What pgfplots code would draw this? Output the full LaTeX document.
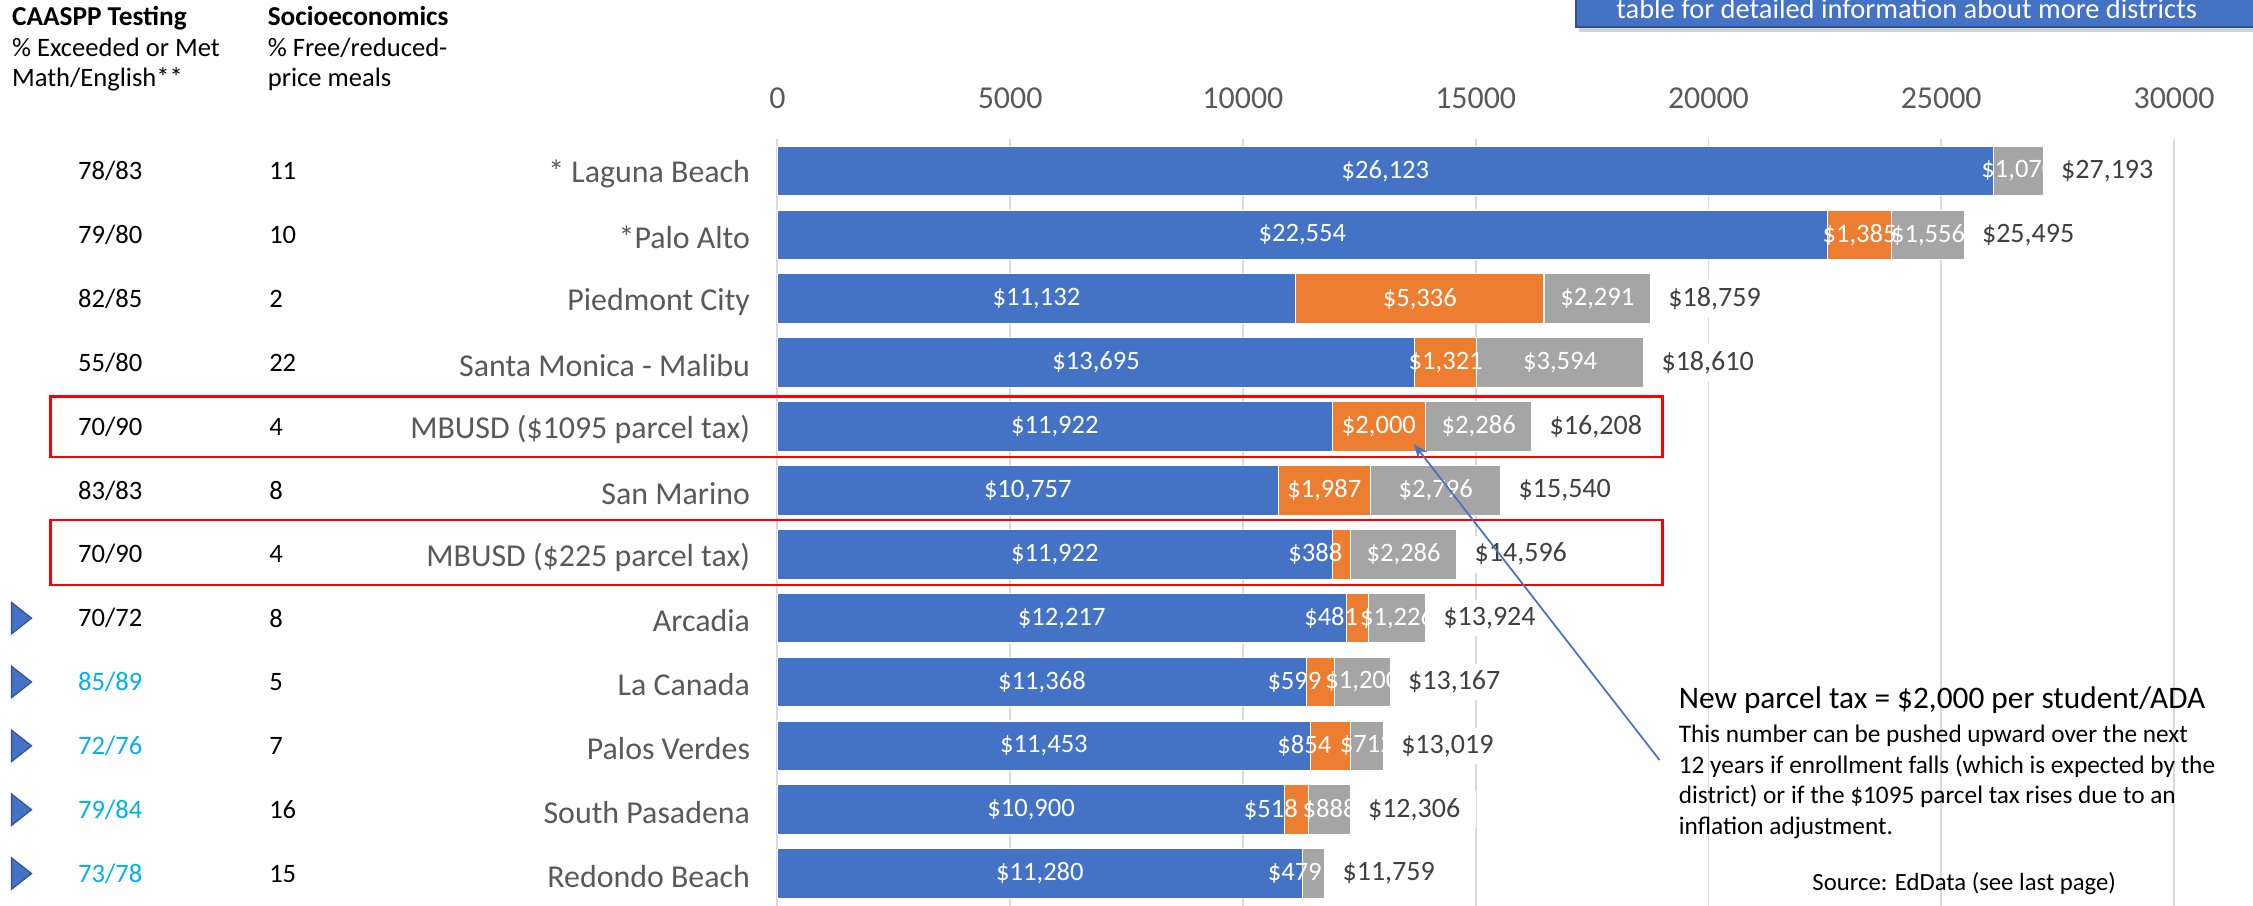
\documentclass[border=0pt]{standalone}
\usepackage{fontspec}
\setmainfont{Carlito}
\usepackage{pgfplots}
\pgfplotsset{compat=1.18}
\usepackage{pgfplotstable}
\usetikzlibrary{arrows.meta,shadows}

\definecolor{cblue}{HTML}{4472C4}
\definecolor{corange}{HTML}{ED7D31}
\definecolor{cgray}{HTML}{A5A5A5}
\definecolor{cgrid}{HTML}{D9D9D9}
\definecolor{ctxt}{HTML}{595959}
\definecolor{ctot}{HTML}{404040}
\definecolor{cltblue}{HTML}{00B0F0}
\definecolor{cdkblue}{HTML}{2F528F}

% row, base spending (blue), parcel tax (orange), other (gray), CAASPP, FRL
\pgfplotstableread{
row a b c caaspp frl
0 26123 0 1070 78/83 11
1 22554 1385 1556 79/80 10
2 11132 5336 2291 82/85 2
3 13695 1321 3594 55/80 22
4 11922 2000 2286 70/90 4
5 10757 1987 2796 83/83 8
6 11922 388 2286 70/90 4
7 12217 481 1226 70/72 8
8 11368 599 1200 85/89 5
9 11453 854 712 72/76 7
10 10900 518 888 79/84 16
11 11280 0 479 73/78 15
}\districts

\pgfdeclareplotmark{rtri}{%
  \pgfpathmoveto{\pgfqpoint{-3.5pt}{5.5pt}}%
  \pgfpathlineto{\pgfqpoint{3.5pt}{0pt}}%
  \pgfpathlineto{\pgfqpoint{-3.5pt}{-5.5pt}}%
  \pgfpathclose
  \pgfusepathqfillstroke}

\newcommand{\fs}[1]{\fontsize{#1}{#1}\selectfont}

\begin{document}
\begin{tikzpicture}
\useasboundingbox (0pt,0pt) rectangle (784pt,-315pt);
\begin{axis}[
  at={(270.5pt,-48.4pt)}, anchor=north west,
  scale only axis, width=486pt, height=266.7pt,
  xmin=0, xmax=30000, ymin=-0.5, ymax=11.5, y dir=reverse,
  axis line style={draw=none}, major tick length=0pt,
  xtick={0,5000,...,30000}, xticklabel pos=upper,
  scaled x ticks=false,
  xmajorgrids, grid style={cgrid, line width=0.6pt},
  ytick={0,...,11},
  yticklabels={{* Laguna Beach},{*Palo Alto},{Piedmont City},{Santa Monica - Malibu},{MBUSD (\$1095 parcel tax)},{San Marino},{MBUSD (\$225 parcel tax)},{Arcadia},{La Canada},{Palos Verdes},{South Pasadena},{Redondo Beach}},
  /pgf/number format/assume math mode=true,
  xticklabel style={font=\fs{11.1}, text=ctxt, yshift=7pt, /pgf/number format/1000 sep={}},
  yticklabel style={font=\fs{11.1}, text=ctxt, xshift=-6pt, yshift=-1pt},
  clip=false,
]
% bars (drawn back to front: total, base+parcel, base)
\addplot[xbar, bar shift=0pt, bar width=17.3pt, fill=cgray, draw=white, line width=0.4pt]
  table[x expr=\thisrow{a}+\thisrow{b}+\thisrow{c}, y=row]{\districts};
\addplot[xbar, bar shift=0pt, bar width=17.3pt, fill=corange, draw=white, line width=0.4pt, restrict expr to domain={\thisrow{b}}{1:100000}]
  table[x expr=\thisrow{a}+\thisrow{b}, y=row]{\districts};
\addplot[xbar, bar shift=0pt, bar width=17.3pt, fill=cblue, draw=white, line width=0.4pt]
  table[x=a, y=row]{\districts};

% segment labels
\pgfplotsset{seglab/.style={draw=none, mark=none, point meta=explicit,
  nodes near coords={\$\pgfmathprintnumber[fixed,precision=0,1000 sep={,}]{\pgfplotspointmeta}},
  every node near coord/.append style={anchor=center, text=white, font=\fs{9.25}}}}
\addplot[seglab] table[x expr=\thisrow{a}/2, y=row, meta=a]{\districts};
\addplot[seglab, restrict expr to domain={\thisrow{b}}{1000:100000}]
  table[x expr=\thisrow{a}+\thisrow{b}/2, y=row, meta=b]{\districts};
\addplot[seglab, restrict expr to domain={\thisrow{b}}{1:999},
  every node near coord/.append style={anchor=east, inner xsep=0pt, xshift=0.5pt}]
  table[x expr=\thisrow{a}+\thisrow{b}/2, y=row, meta=b]{\districts};
\addplot[seglab, restrict expr to domain={\thisrow{c}}{601:100000}]
  table[x expr=\thisrow{a}+\thisrow{b}+\thisrow{c}/2, y=row, meta=c]{\districts};
\addplot[seglab, restrict expr to domain={\thisrow{c}}{1:600},
  every node near coord/.append style={anchor=east, inner xsep=0pt, xshift=3pt}]
  table[x expr=\thisrow{a}+\thisrow{b}+\thisrow{c}/2, y=row, meta=c]{\districts};
% totals (white box hides label overflow beyond bar end)
\addplot[draw=none, mark=none, point meta=explicit,
  nodes near coords={\$\pgfmathprintnumber[fixed,precision=0,1000 sep={,}]{\pgfplotspointmeta}},
  every node near coord/.append style={anchor=west, text=ctot, font=\fs{9.75}, fill=white, inner xsep=5.6pt, inner ysep=2.5pt, xshift=0.4pt}]
  table[x expr=\thisrow{a}+\thisrow{b}+\thisrow{c}, y=row, meta expr=\thisrow{a}+\thisrow{b}+\thisrow{c}]{\districts};

% left columns
\pgfplotsset{collab/.style={draw=none, mark=none, point meta=explicit symbolic, nodes near coords,
  every node near coord/.append style={anchor=west, inner sep=0pt, font=\fs{9.25}, text=#1}}}
\addplot[collab=black, restrict y to domain=0:7] table[x expr=-15031, y=row, meta=caaspp]{\districts};
\addplot[collab=cltblue, restrict y to domain=8:11] table[x expr=-15031, y=row, meta=caaspp]{\districts};
\addplot[collab=black] table[x expr=-10926, y=row, meta=frl]{\districts};
% triangle markers
\addplot[only marks, mark=rtri, mark options={fill=cblue, draw=cdkblue, line width=0.4pt}, restrict y to domain=7:11]
  table[x expr=-16235, y=row]{\districts};
\end{axis}

\begin{scope}[x=0.5pt,y=-0.5pt]
% headers
\node[anchor=base west, inner sep=0pt, font=\bfseries\fs{9.5}] at (8,18) {CAASPP Testing};
\node[anchor=base west, inner sep=0pt, font=\fs{9.25}] at (8,39) {\% Exceeded or Met};
\node[anchor=base west, inner sep=0pt, font=\fs{9.25}] at (8,60) {Math/English**};
\node[anchor=base west, inner sep=0pt, font=\bfseries\fs{9.5}] at (186,18) {Socioeconomics};
\node[anchor=base west, inner sep=0pt, font=\fs{9.25}] at (186,39) {\% Free/reduced-};
\node[anchor=base west, inner sep=0pt, font=\fs{9.25}] at (186,60) {price meals};
% top-right box
\fill[cblue, drop shadow={shadow xshift=1pt, shadow yshift=-1.5pt, opacity=0.35}] (1097,-40) rectangle (1640,19);
\draw[cdkblue, line width=0.6pt] (1097,-40) rectangle (1640,19);
\node[anchor=base, inner sep=0pt, text=white, font=\fs{9.9}] at (1327,13) {table for detailed information about more districts};
% highlight boxes
\draw[red, line width=0.9pt] (35,276) rectangle (1157,318);
\draw[red, line width=0.9pt] (35,362) rectangle (1157,407);
% arrow
\draw[cblue, line width=0.6pt, -{Stealth[length=5pt,width=4pt]}] (1155,529) -- (984,309);
% annotation
\node[anchor=base west, inner sep=0pt, font=\fs{10.9}] at (1168,493) {New parcel tax = \$2,000 per student/ADA};
\node[anchor=base west, inner sep=0pt, font=\fs{8.8}] at (1168,517) {This number can be pushed upward over the next};
\node[anchor=base west, inner sep=0pt, font=\fs{8.8}] at (1168,538) {12 years if enrollment falls (which is expected by the};
\node[anchor=base west, inner sep=0pt, font=\fs{8.8}] at (1168,559.5) {district) or if the \$1095 parcel tax rises due to an};
\node[anchor=base west, inner sep=0pt, font=\fs{8.8}] at (1168,581) {inflation adjustment.};
\node[anchor=base, inner sep=0pt, font=\fs{8.6}] at (1367,620) {Source: EdData (see last page)};
\end{scope}
\end{tikzpicture}
\end{document}
